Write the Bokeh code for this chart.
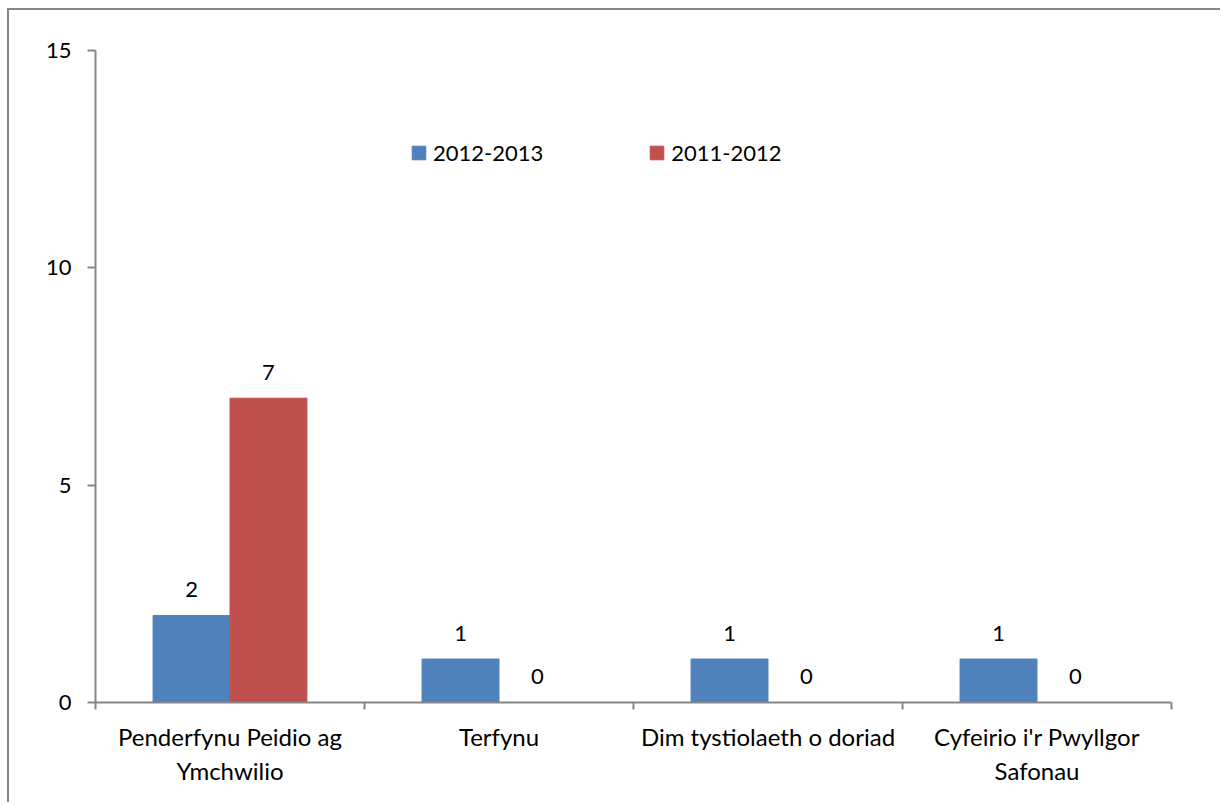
from bokeh.plotting import figure
from bokeh.models import ColumnDataSource, Range1d, FixedTicker, Legend, LegendItem
from bokeh.transform import dodge
from bokeh.core.properties import value
from bokeh.embed import file_html
from bokeh.resources import INLINE

# ---- data ----
categories = ["Penderfynu Peidio ag\nYmchwilio", "Terfynu",
              "Dim tystiolaeth o doriad", "Cyfeirio i'r Pwyllgor\nSafonau"]
series_names = ["2012-2013", "2011-2012"]
values_2012_2013 = [2, 1, 1, 1]
values_2011_2012 = [7, 0, 0, 0]
y_ticks = [0, 5, 10, 15]

FONT = "Lato"
FS = "22px"
FS_CAT = "24px"
BLUE = "#4F81BD"
RED = "#C0504D"
GRAY = "#868686"

n = len(categories)
centers = [i + 0.5 for i in range(n)]
bounds = [float(i) for i in range(n + 1)]

src = ColumnDataSource(dict(
    x=centers,
    a=values_2012_2013,
    b=values_2011_2012,
    a_lbl=[str(v) for v in values_2012_2013],
    b_lbl=[str(v) for v in values_2011_2012],
))

p = figure(width=1213, height=794, output_backend="svg", toolbar_location=None,
           x_range=Range1d(0, n), y_range=Range1d(0, 15),
           min_border_left=86, min_border_right=51, min_border_top=40, min_border_bottom=102)
p.styles = {"border-top": f"2px solid {GRAY}", "border-left": f"2px solid {GRAY}",
            "margin-top": "8px", "margin-left": "7px"}
p.outline_line_color = None
p.xgrid.visible = False
p.ygrid.visible = False
p.background_fill_color = "white"
p.border_fill_color = "white"

W = 0.286
ra = p.vbar(x=dodge("x", -W / 2, range=p.x_range), top="a", width=W, source=src,
            fill_color=BLUE, line_color=BLUE)
rb = p.vbar(x=dodge("x", W / 2, range=p.x_range), top="b", width=W, source=src,
            fill_color=RED, line_color=RED)

for col, lbl, off in (("a", "a_lbl", -W / 2), ("b", "b_lbl", W / 2)):
    p.text(x=dodge("x", off, range=p.x_range), y=col, text=lbl, source=src,
           text_align="center", text_baseline="middle", y_offset=-26,
           text_font=value(FONT), text_font_size=FS, text_color="black")

# x axis
xa = p.xaxis[0]
xa.ticker = FixedTicker(ticks=centers, minor_ticks=bounds)
xa.major_label_overrides = {c: lab for c, lab in zip(centers, categories)}
xa.major_tick_line_color = None
xa.minor_tick_line_color = GRAY
xa.minor_tick_line_width = 2
xa.minor_tick_in = 0
xa.minor_tick_out = 7
xa.axis_line_color = GRAY
xa.axis_line_width = 2
xa.major_label_text_font = FONT
xa.major_label_text_font_size = FS_CAT
xa.major_label_text_color = "black"
xa.major_label_standoff = 12

# y axis
ya = p.yaxis[0]
ya.ticker = FixedTicker(ticks=y_ticks)
ya.minor_tick_line_color = None
ya.major_tick_line_color = GRAY
ya.major_tick_line_width = 2
ya.major_tick_in = 0
ya.major_tick_out = 8
ya.axis_line_color = GRAY
ya.axis_line_width = 2
ya.major_label_text_font = FONT
ya.major_label_text_font_size = FS
ya.major_label_text_color = "black"
ya.major_label_standoff = 16

legend = Legend(items=[LegendItem(label=series_names[0], renderers=[ra]),
                       LegendItem(label=series_names[1], renderers=[rb])],
                orientation="horizontal", location=(315, 536),
                glyph_width=17, glyph_height=17, label_standoff=6, spacing=105,
                padding=0, margin=0, border_line_color=None, background_fill_alpha=0,
                label_text_font=FONT, label_text_font_size=FS, label_text_color="black")
p.add_layout(legend, "center")

open("out.html", "w").write(file_html(p, INLINE))
